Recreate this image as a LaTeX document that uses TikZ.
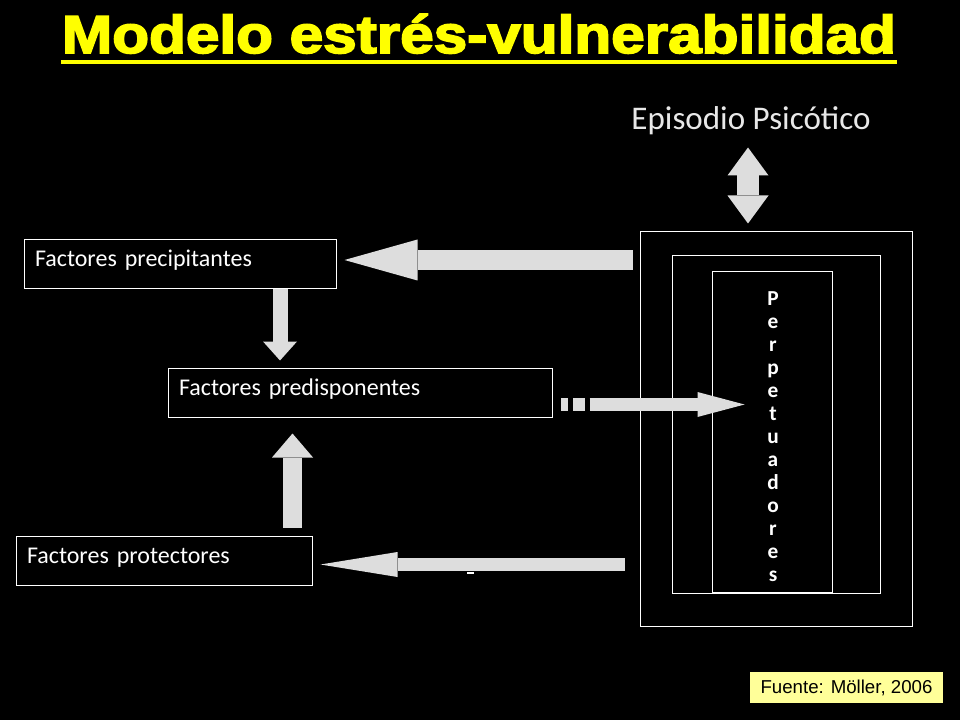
\documentclass[tikz,border=0pt]{standalone}
\usepackage{fontspec}
\usepackage{graphicx}
\setmainfont{Carlito}
\newfontfamily\arialfont{Liberation Sans}
\newfontfamily\titlefont{Liberation Sans}[BoldFeatures={FakeBold=3}]
\usetikzlibrary{arrows.meta}
\definecolor{arrowgray}{HTML}{DDDDDD}
\definecolor{titleyellow}{HTML}{FFFF00}
\definecolor{notefill}{HTML}{FFFF99}
\definecolor{softwhite}{HTML}{E8E8E8}

\begin{document}
\begin{tikzpicture}[
    x=0.75pt, y=-0.75pt,
    factor/.style={draw=white, line width=0.75pt, text=white, align=left,
        font=\fontsize{18}{21.6}\selectfont,
        inner xsep=8.25pt, inner ysep=0pt, text height=20.25pt, text depth=16.5pt},
    frame/.style={draw=white, line width=0.75pt, inner sep=0pt},
    fat/.style n args={3}{draw=arrowgray, line width=#1,
        -{Triangle[width=#2, length=#3, line width=0pt]}},
    fatboth/.style n args={3}{draw=arrowgray, line width=#1,
        {Triangle[width=#2, length=#3, line width=0pt]}-{Triangle[width=#2, length=#3, line width=0pt]}},
]

    \fill[black] (0,0) rectangle (960,720);

    % titulo
    \node[anchor=base, inner sep=0pt, text=titleyellow,
          font=\titlefont\bfseries\fontsize{40}{48}\selectfont] (title) at (479,53)
          {\scalebox{1.13}[1]{Modelo estrés-vulnerabilidad}};
    \draw[titleyellow, line width=3.5pt]
        ([shift={(-1,9)}]title.base west) -- ([shift={(1,9)}]title.base east);

    % factores
    \node[factor, text width=217.5pt] (prec) at (180,264.5) {Factores precipitantes};
    \node[factor, text width=271.5pt] (pred) at (360,392.5) {Factores predisponentes};
    \node[factor, text width=205.5pt] (prot) at (164,560.5) {Factores protectores};

    % perpetuadores
    \node[frame, minimum width=204pt, minimum height=295.5pt] (outer)  at (776,429) {};
    \node[frame, minimum width=156pt, minimum height=252.75pt] (middle) at (776,424.5) {};
    \node[frame, minimum width=90pt, minimum height=240pt] (inner) at (772,432) {};
    \node[text=white, align=center, font=\bfseries\fontsize{16}{17.25}\selectfont]
          (perp) at ([shift={(1,5)}]inner.center)
          {P\\e\\r\\p\\e\\t\\u\\a\\d\\o\\r\\e\\s};

    \node[anchor=base, text=softwhite, font=\fontsize{24.8}{29.8}\selectfont] (epi) at (751,130)
          {Episodio Psicótico};

    \node[fill=notefill, minimum width=144.75pt, minimum height=23.25pt, inner sep=0pt,
          font=\arialfont\fontsize{14}{16.8}\selectfont] (src) at (846.5,687.5)
          {Fuente: Möller, 2006};

    % flechas
    \coordinate (ptip) at ([shift={(8,-4.5)}]prec.east);
    \coordinate (btip) at ([shift={(8,4)}]prot.east);
    \coordinate (mtail) at ([shift={(37,12)}]pred.east);
    \coordinate (dtail) at ([shift={(-28,-8)}]outer.north);

    \draw[fat={15pt}{30.75pt}{54.75pt}, shorten <=5.25pt] (outer.west |- ptip) -- (ptip);
    \draw[fat={11.25pt}{25.5pt}{14.25pt}]
        ([shift={(100,0)}]prec.south) -- ([shift={(-80,-7)}]pred.north);
    \draw[fat={14.25pt}{30.75pt}{18pt}]
        ([shift={(128.5,-8)}]prot.north) -- ([shift={(-67.5,16)}]pred.south);
    \draw[fat={9.75pt}{18.75pt}{35.25pt}, shorten >=-24.75pt] (mtail) -- (inner.west |- mtail);
    \fill[arrowgray] ([shift={(8,5.5)}]pred.east) rectangle ++(7,13);
    \fill[arrowgray] ([shift={(20,5.5)}]pred.east) rectangle ++(12,13);
    \draw[fat={9.75pt}{18.75pt}{57.75pt}, shorten <=11.25pt] (outer.west |- btip) -- (btip);
    \fill[white] ([shift={(146,7.5)}]btip) rectangle ++(7,2);
    \draw[fatboth={16.5pt}{30.75pt}{21pt}] (dtail) -- ([shift={(-28,-84)}]outer.north);

\end{tikzpicture}
\end{document}
